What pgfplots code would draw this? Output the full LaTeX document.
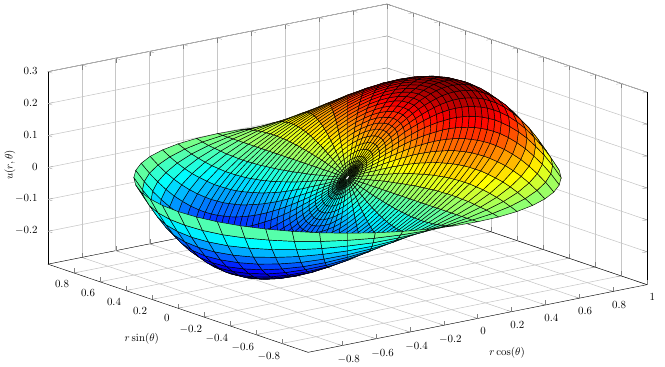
\documentclass[border=0pt]{standalone}
\usepackage{pgfplots}
\pgfplotsset{compat=1.18}
\usepackage{pgfplotstable}
\pgfplotsset{colormap={myjet}{rgb255=(0,0,128) rgb255=(0,0,255) rgb255=(0,128,255) rgb255=(0,255,255) rgb255=(128,255,128) rgb255=(255,255,0) rgb255=(255,128,0) rgb255=(255,0,0) rgb255=(128,0,0)}}
\pgfplotstableread{
k r u
0 .01 .006
1 .01 .006
2 .01 .006
3 .01 .006
4 .01 .005
5 .01 .005
6 .01 .004
7 .01 .004
8 .01 .003
9 .01 .002
10 .01 .002
11 .01 .001
12 .01 0
13 .01 -.001
14 .01 -.002
15 .01 -.002
16 .01 -.003
17 .01 -.004
18 .01 -.004
19 .01 -.005
20 .01 -.005
21 .01 -.006
22 .01 -.006
23 .01 -.006
24 .01 -.006
25 .01 -.006
26 .01 -.006
27 .01 -.006
28 .01 -.005
29 .01 -.005
30 .01 -.004
31 .01 -.004
32 .01 -.003
33 .01 -.002
34 .01 -.002
35 .01 -.001
36 .01 0
37 .01 .001
38 .01 .002
39 .01 .002
40 .01 .003
41 .01 .004
42 .01 .004
43 .01 .005
44 .01 .005
45 .01 .006
46 .01 .006
47 .01 .006
48 .01 .006
0 .02 .013
1 .02 .012
2 .02 .012
3 .02 .012
4 .02 .011
5 .02 .010
6 .02 .009
7 .02 .008
8 .02 .006
9 .02 .005
10 .02 .003
11 .02 .002
12 .02 0
13 .02 -.002
14 .02 -.003
15 .02 -.005
16 .02 -.006
17 .02 -.008
18 .02 -.009
19 .02 -.010
20 .02 -.011
21 .02 -.012
22 .02 -.012
23 .02 -.012
24 .02 -.013
25 .02 -.012
26 .02 -.012
27 .02 -.012
28 .02 -.011
29 .02 -.010
30 .02 -.009
31 .02 -.008
32 .02 -.006
33 .02 -.005
34 .02 -.003
35 .02 -.002
36 .02 0
37 .02 .002
38 .02 .003
39 .02 .005
40 .02 .006
41 .02 .008
42 .02 .009
43 .02 .010
44 .02 .011
45 .02 .012
46 .02 .012
47 .02 .012
48 .02 .013
0 .03 .019
1 .03 .019
2 .03 .018
3 .03 .017
4 .03 .016
5 .03 .015
6 .03 .013
7 .03 .012
8 .03 .009
9 .03 .007
10 .03 .005
11 .03 .002
12 .03 0
13 .03 -.002
14 .03 -.005
15 .03 -.007
16 .03 -.009
17 .03 -.012
18 .03 -.013
19 .03 -.015
20 .03 -.016
21 .03 -.017
22 .03 -.018
23 .03 -.019
24 .03 -.019
25 .03 -.019
26 .03 -.018
27 .03 -.017
28 .03 -.016
29 .03 -.015
30 .03 -.013
31 .03 -.012
32 .03 -.009
33 .03 -.007
34 .03 -.005
35 .03 -.002
36 .03 0
37 .03 .002
38 .03 .005
39 .03 .007
40 .03 .009
41 .03 .012
42 .03 .013
43 .03 .015
44 .03 .016
45 .03 .017
46 .03 .018
47 .03 .019
48 .03 .019
0 .04 .025
1 .04 .025
2 .04 .024
3 .04 .023
4 .04 .022
5 .04 .020
6 .04 .018
7 .04 .015
8 .04 .013
9 .04 .010
10 .04 .007
11 .04 .003
12 .04 0
13 .04 -.003
14 .04 -.007
15 .04 -.010
16 .04 -.013
17 .04 -.015
18 .04 -.018
19 .04 -.020
20 .04 -.022
21 .04 -.023
22 .04 -.024
23 .04 -.025
24 .04 -.025
25 .04 -.025
26 .04 -.024
27 .04 -.023
28 .04 -.022
29 .04 -.020
30 .04 -.018
31 .04 -.015
32 .04 -.013
33 .04 -.010
34 .04 -.007
35 .04 -.003
36 .04 0
37 .04 .003
38 .04 .007
39 .04 .010
40 .04 .013
41 .04 .015
42 .04 .018
43 .04 .020
44 .04 .022
45 .04 .023
46 .04 .024
47 .04 .025
48 .04 .025
0 .05 .031
1 .05 .031
2 .05 .030
3 .05 .029
4 .05 .027
5 .05 .025
6 .05 .022
7 .05 .019
8 .05 .016
9 .05 .012
10 .05 .008
11 .05 .004
12 .05 0
13 .05 -.004
14 .05 -.008
15 .05 -.012
16 .05 -.016
17 .05 -.019
18 .05 -.022
19 .05 -.025
20 .05 -.027
21 .05 -.029
22 .05 -.030
23 .05 -.031
24 .05 -.031
25 .05 -.031
26 .05 -.030
27 .05 -.029
28 .05 -.027
29 .05 -.025
30 .05 -.022
31 .05 -.019
32 .05 -.016
33 .05 -.012
34 .05 -.008
35 .05 -.004
36 .05 0
37 .05 .004
38 .05 .008
39 .05 .012
40 .05 .016
41 .05 .019
42 .05 .022
43 .05 .025
44 .05 .027
45 .05 .029
46 .05 .030
47 .05 .031
48 .05 .031
0 .07 .044
1 .07 .044
2 .07 .042
3 .07 .041
4 .07 .038
5 .07 .035
6 .07 .031
7 .07 .027
8 .07 .022
9 .07 .017
10 .07 .011
11 .07 .006
12 .07 0
13 .07 -.006
14 .07 -.011
15 .07 -.017
16 .07 -.022
17 .07 -.027
18 .07 -.031
19 .07 -.035
20 .07 -.038
21 .07 -.041
22 .07 -.042
23 .07 -.044
24 .07 -.044
25 .07 -.044
26 .07 -.042
27 .07 -.041
28 .07 -.038
29 .07 -.035
30 .07 -.031
31 .07 -.027
32 .07 -.022
33 .07 -.017
34 .07 -.011
35 .07 -.006
36 .07 0
37 .07 .006
38 .07 .011
39 .07 .017
40 .07 .022
41 .07 .027
42 .07 .031
43 .07 .035
44 .07 .038
45 .07 .041
46 .07 .042
47 .07 .044
48 .07 .044
0 .09 .056
1 .09 .056
2 .09 .054
3 .09 .052
4 .09 .049
5 .09 .045
6 .09 .040
7 .09 .034
8 .09 .028
9 .09 .022
10 .09 .015
11 .09 .007
12 .09 0
13 .09 -.007
14 .09 -.015
15 .09 -.022
16 .09 -.028
17 .09 -.034
18 .09 -.040
19 .09 -.045
20 .09 -.049
21 .09 -.052
22 .09 -.054
23 .09 -.056
24 .09 -.056
25 .09 -.056
26 .09 -.054
27 .09 -.052
28 .09 -.049
29 .09 -.045
30 .09 -.040
31 .09 -.034
32 .09 -.028
33 .09 -.022
34 .09 -.015
35 .09 -.007
36 .09 0
37 .09 .007
38 .09 .015
39 .09 .022
40 .09 .028
41 .09 .034
42 .09 .040
43 .09 .045
44 .09 .049
45 .09 .052
46 .09 .054
47 .09 .056
48 .09 .056
0 .12 .075
1 .12 .074
2 .12 .072
3 .12 .069
4 .12 .065
5 .12 .059
6 .12 .053
7 .12 .045
8 .12 .037
9 .12 .029
10 .12 .019
11 .12 .010
12 .12 0
13 .12 -.010
14 .12 -.019
15 .12 -.029
16 .12 -.037
17 .12 -.045
18 .12 -.053
19 .12 -.059
20 .12 -.065
21 .12 -.069
22 .12 -.072
23 .12 -.074
24 .12 -.075
25 .12 -.074
26 .12 -.072
27 .12 -.069
28 .12 -.065
29 .12 -.059
30 .12 -.053
31 .12 -.045
32 .12 -.037
33 .12 -.029
34 .12 -.019
35 .12 -.010
36 .12 0
37 .12 .010
38 .12 .019
39 .12 .029
40 .12 .037
41 .12 .045
42 .12 .053
43 .12 .059
44 .12 .065
45 .12 .069
46 .12 .072
47 .12 .074
48 .12 .075
0 .15 .092
1 .15 .092
2 .15 .089
3 .15 .085
4 .15 .080
5 .15 .073
6 .15 .065
7 .15 .056
8 .15 .046
9 .15 .035
10 .15 .024
11 .15 .012
12 .15 0
13 .15 -.012
14 .15 -.024
15 .15 -.035
16 .15 -.046
17 .15 -.056
18 .15 -.065
19 .15 -.073
20 .15 -.080
21 .15 -.085
22 .15 -.089
23 .15 -.092
24 .15 -.092
25 .15 -.092
26 .15 -.089
27 .15 -.085
28 .15 -.080
29 .15 -.073
30 .15 -.065
31 .15 -.056
32 .15 -.046
33 .15 -.035
34 .15 -.024
35 .15 -.012
36 .15 0
37 .15 .012
38 .15 .024
39 .15 .035
40 .15 .046
41 .15 .056
42 .15 .065
43 .15 .073
44 .15 .080
45 .15 .085
46 .15 .089
47 .15 .092
48 .15 .092
0 .18 .110
1 .18 .109
2 .18 .106
3 .18 .101
4 .18 .095
5 .18 .087
6 .18 .078
7 .18 .067
8 .18 .055
9 .18 .042
10 .18 .028
11 .18 .014
12 .18 0
13 .18 -.014
14 .18 -.028
15 .18 -.042
16 .18 -.055
17 .18 -.067
18 .18 -.078
19 .18 -.087
20 .18 -.095
21 .18 -.101
22 .18 -.106
23 .18 -.109
24 .18 -.110
25 .18 -.109
26 .18 -.106
27 .18 -.101
28 .18 -.095
29 .18 -.087
30 .18 -.078
31 .18 -.067
32 .18 -.055
33 .18 -.042
34 .18 -.028
35 .18 -.014
36 .18 0
37 .18 .014
38 .18 .028
39 .18 .042
40 .18 .055
41 .18 .067
42 .18 .078
43 .18 .087
44 .18 .095
45 .18 .101
46 .18 .106
47 .18 .109
48 .18 .110
0 .21 .127
1 .21 .125
2 .21 .122
3 .21 .117
4 .21 .110
5 .21 .100
6 .21 .089
7 .21 .077
8 .21 .063
9 .21 .048
10 .21 .033
11 .21 .017
12 .21 0
13 .21 -.017
14 .21 -.033
15 .21 -.048
16 .21 -.063
17 .21 -.077
18 .21 -.089
19 .21 -.100
20 .21 -.110
21 .21 -.117
22 .21 -.122
23 .21 -.125
24 .21 -.127
25 .21 -.125
26 .21 -.122
27 .21 -.117
28 .21 -.110
29 .21 -.100
30 .21 -.089
31 .21 -.077
32 .21 -.063
33 .21 -.048
34 .21 -.033
35 .21 -.017
36 .21 0
37 .21 .017
38 .21 .033
39 .21 .048
40 .21 .063
41 .21 .077
42 .21 .089
43 .21 .100
44 .21 .110
45 .21 .117
46 .21 .122
47 .21 .125
48 .21 .127
0 .24 .143
1 .24 .141
2 .24 .138
3 .24 .132
4 .24 .123
5 .24 .113
6 .24 .101
7 .24 .087
8 .24 .071
9 .24 .055
10 .24 .037
11 .24 .019
12 .24 0
13 .24 -.019
14 .24 -.037
15 .24 -.055
16 .24 -.071
17 .24 -.087
18 .24 -.101
19 .24 -.113
20 .24 -.123
21 .24 -.132
22 .24 -.138
23 .24 -.141
24 .24 -.143
25 .24 -.141
26 .24 -.138
27 .24 -.132
28 .24 -.123
29 .24 -.113
30 .24 -.101
31 .24 -.087
32 .24 -.071
33 .24 -.055
34 .24 -.037
35 .24 -.019
36 .24 0
37 .24 .019
38 .24 .037
39 .24 .055
40 .24 .071
41 .24 .087
42 .24 .101
43 .24 .113
44 .24 .123
45 .24 .132
46 .24 .138
47 .24 .141
48 .24 .143
0 .27 .158
1 .27 .156
2 .27 .152
3 .27 .146
4 .27 .137
5 .27 .125
6 .27 .112
7 .27 .096
8 .27 .079
9 .27 .060
10 .27 .041
11 .27 .021
12 .27 0
13 .27 -.021
14 .27 -.041
15 .27 -.060
16 .27 -.079
17 .27 -.096
18 .27 -.112
19 .27 -.125
20 .27 -.137
21 .27 -.146
22 .27 -.152
23 .27 -.156
24 .27 -.158
25 .27 -.156
26 .27 -.152
27 .27 -.146
28 .27 -.137
29 .27 -.125
30 .27 -.112
31 .27 -.096
32 .27 -.079
33 .27 -.060
34 .27 -.041
35 .27 -.021
36 .27 0
37 .27 .021
38 .27 .041
39 .27 .060
40 .27 .079
41 .27 .096
42 .27 .112
43 .27 .125
44 .27 .137
45 .27 .146
46 .27 .152
47 .27 .156
48 .27 .158
0 .30 .172
1 .30 .171
2 .30 .166
3 .30 .159
4 .30 .149
5 .30 .136
6 .30 .122
7 .30 .105
8 .30 .086
9 .30 .066
10 .30 .045
11 .30 .022
12 .30 0
13 .30 -.022
14 .30 -.045
15 .30 -.066
16 .30 -.086
17 .30 -.105
18 .30 -.122
19 .30 -.136
20 .30 -.149
21 .30 -.159
22 .30 -.166
23 .30 -.171
24 .30 -.172
25 .30 -.171
26 .30 -.166
27 .30 -.159
28 .30 -.149
29 .30 -.136
30 .30 -.122
31 .30 -.105
32 .30 -.086
33 .30 -.066
34 .30 -.045
35 .30 -.022
36 .30 0
37 .30 .022
38 .30 .045
39 .30 .066
40 .30 .086
41 .30 .105
42 .30 .122
43 .30 .136
44 .30 .149
45 .30 .159
46 .30 .166
47 .30 .171
48 .30 .172
0 .33 .185
1 .33 .184
2 .33 .179
3 .33 .171
4 .33 .160
5 .33 .147
6 .33 .131
7 .33 .113
8 .33 .093
9 .33 .071
10 .33 .048
11 .33 .024
12 .33 0
13 .33 -.024
14 .33 -.048
15 .33 -.071
16 .33 -.093
17 .33 -.113
18 .33 -.131
19 .33 -.147
20 .33 -.160
21 .33 -.171
22 .33 -.179
23 .33 -.184
24 .33 -.185
25 .33 -.184
26 .33 -.179
27 .33 -.171
28 .33 -.160
29 .33 -.147
30 .33 -.131
31 .33 -.113
32 .33 -.093
33 .33 -.071
34 .33 -.048
35 .33 -.024
36 .33 0
37 .33 .024
38 .33 .048
39 .33 .071
40 .33 .093
41 .33 .113
42 .33 .131
43 .33 .147
44 .33 .160
45 .33 .171
46 .33 .179
47 .33 .184
48 .33 .185
0 .36 .197
1 .36 .196
2 .36 .191
3 .36 .182
4 .36 .171
5 .36 .157
6 .36 .140
7 .36 .120
8 .36 .099
9 .36 .076
10 .36 .051
11 .36 .026
12 .36 0
13 .36 -.026
14 .36 -.051
15 .36 -.076
16 .36 -.099
17 .36 -.120
18 .36 -.140
19 .36 -.157
20 .36 -.171
21 .36 -.182
22 .36 -.191
23 .36 -.196
24 .36 -.197
25 .36 -.196
26 .36 -.191
27 .36 -.182
28 .36 -.171
29 .36 -.157
30 .36 -.140
31 .36 -.120
32 .36 -.099
33 .36 -.076
34 .36 -.051
35 .36 -.026
36 .36 0
37 .36 .026
38 .36 .051
39 .36 .076
40 .36 .099
41 .36 .120
42 .36 .140
43 .36 .157
44 .36 .171
45 .36 .182
46 .36 .191
47 .36 .196
48 .36 .197
0 .39 .208
1 .39 .207
2 .39 .201
3 .39 .192
4 .39 .180
5 .39 .165
6 .39 .147
7 .39 .127
8 .39 .104
9 .39 .080
10 .39 .054
11 .39 .027
12 .39 0
13 .39 -.027
14 .39 -.054
15 .39 -.080
16 .39 -.104
17 .39 -.127
18 .39 -.147
19 .39 -.165
20 .39 -.180
21 .39 -.192
22 .39 -.201
23 .39 -.207
24 .39 -.208
25 .39 -.207
26 .39 -.201
27 .39 -.192
28 .39 -.180
29 .39 -.165
30 .39 -.147
31 .39 -.127
32 .39 -.104
33 .39 -.080
34 .39 -.054
35 .39 -.027
36 .39 0
37 .39 .027
38 .39 .054
39 .39 .080
40 .39 .104
41 .39 .127
42 .39 .147
43 .39 .165
44 .39 .180
45 .39 .192
46 .39 .201
47 .39 .207
48 .39 .208
0 .42 .218
1 .42 .216
2 .42 .210
3 .42 .201
4 .42 .189
5 .42 .173
6 .42 .154
7 .42 .133
8 .42 .109
9 .42 .083
10 .42 .056
11 .42 .028
12 .42 0
13 .42 -.028
14 .42 -.056
15 .42 -.083
16 .42 -.109
17 .42 -.133
18 .42 -.154
19 .42 -.173
20 .42 -.189
21 .42 -.201
22 .42 -.210
23 .42 -.216
24 .42 -.218
25 .42 -.216
26 .42 -.210
27 .42 -.201
28 .42 -.189
29 .42 -.173
30 .42 -.154
31 .42 -.133
32 .42 -.109
33 .42 -.083
34 .42 -.056
35 .42 -.028
36 .42 0
37 .42 .028
38 .42 .056
39 .42 .083
40 .42 .109
41 .42 .133
42 .42 .154
43 .42 .173
44 .42 .189
45 .42 .201
46 .42 .210
47 .42 .216
48 .42 .218
0 .45 .226
1 .45 .224
2 .45 .218
3 .45 .209
4 .45 .196
5 .45 .179
6 .45 .160
7 .45 .138
8 .45 .113
9 .45 .087
10 .45 .059
11 .45 .030
12 .45 0
13 .45 -.030
14 .45 -.059
15 .45 -.087
16 .45 -.113
17 .45 -.138
18 .45 -.160
19 .45 -.179
20 .45 -.196
21 .45 -.209
22 .45 -.218
23 .45 -.224
24 .45 -.226
25 .45 -.224
26 .45 -.218
27 .45 -.209
28 .45 -.196
29 .45 -.179
30 .45 -.160
31 .45 -.138
32 .45 -.113
33 .45 -.087
34 .45 -.059
35 .45 -.030
36 .45 0
37 .45 .030
38 .45 .059
39 .45 .087
40 .45 .113
41 .45 .138
42 .45 .160
43 .45 .179
44 .45 .196
45 .45 .209
46 .45 .218
47 .45 .224
48 .45 .226
0 .48 .233
1 .48 .231
2 .48 .225
3 .48 .215
4 .48 .202
5 .48 .185
6 .48 .165
7 .48 .142
8 .48 .116
9 .48 .089
10 .48 .060
11 .48 .030
12 .48 0
13 .48 -.030
14 .48 -.060
15 .48 -.089
16 .48 -.116
17 .48 -.142
18 .48 -.165
19 .48 -.185
20 .48 -.202
21 .48 -.215
22 .48 -.225
23 .48 -.231
24 .48 -.233
25 .48 -.231
26 .48 -.225
27 .48 -.215
28 .48 -.202
29 .48 -.185
30 .48 -.165
31 .48 -.142
32 .48 -.116
33 .48 -.089
34 .48 -.060
35 .48 -.030
36 .48 0
37 .48 .030
38 .48 .060
39 .48 .089
40 .48 .116
41 .48 .142
42 .48 .165
43 .48 .185
44 .48 .202
45 .48 .215
46 .48 .225
47 .48 .231
48 .48 .233
0 .51 .238
1 .51 .236
2 .51 .230
3 .51 .220
4 .51 .206
5 .51 .189
6 .51 .168
7 .51 .145
8 .51 .119
9 .51 .091
10 .51 .062
11 .51 .031
12 .51 0
13 .51 -.031
14 .51 -.062
15 .51 -.091
16 .51 -.119
17 .51 -.145
18 .51 -.168
19 .51 -.189
20 .51 -.206
21 .51 -.220
22 .51 -.230
23 .51 -.236
24 .51 -.238
25 .51 -.236
26 .51 -.230
27 .51 -.220
28 .51 -.206
29 .51 -.189
30 .51 -.168
31 .51 -.145
32 .51 -.119
33 .51 -.091
34 .51 -.062
35 .51 -.031
36 .51 0
37 .51 .031
38 .51 .062
39 .51 .091
40 .51 .119
41 .51 .145
42 .51 .168
43 .51 .189
44 .51 .206
45 .51 .220
46 .51 .230
47 .51 .236
48 .51 .238
0 .54 .241
1 .54 .239
2 .54 .233
3 .54 .223
4 .54 .209
5 .54 .191
6 .54 .170
7 .54 .147
8 .54 .121
9 .54 .092
10 .54 .062
11 .54 .031
12 .54 0
13 .54 -.031
14 .54 -.062
15 .54 -.092
16 .54 -.121
17 .54 -.147
18 .54 -.170
19 .54 -.191
20 .54 -.209
21 .54 -.223
22 .54 -.233
23 .54 -.239
24 .54 -.241
25 .54 -.239
26 .54 -.233
27 .54 -.223
28 .54 -.209
29 .54 -.191
30 .54 -.170
31 .54 -.147
32 .54 -.121
33 .54 -.092
34 .54 -.062
35 .54 -.031
36 .54 0
37 .54 .031
38 .54 .062
39 .54 .092
40 .54 .121
41 .54 .147
42 .54 .170
43 .54 .191
44 .54 .209
45 .54 .223
46 .54 .233
47 .54 .239
48 .54 .241
0 .57 .242
1 .57 .240
2 .57 .234
3 .57 .224
4 .57 .210
5 .57 .192
6 .57 .171
7 .57 .148
8 .57 .121
9 .57 .093
10 .57 .063
11 .57 .032
12 .57 0
13 .57 -.032
14 .57 -.063
15 .57 -.093
16 .57 -.121
17 .57 -.148
18 .57 -.171
19 .57 -.192
20 .57 -.210
21 .57 -.224
22 .57 -.234
23 .57 -.240
24 .57 -.242
25 .57 -.240
26 .57 -.234
27 .57 -.224
28 .57 -.210
29 .57 -.192
30 .57 -.171
31 .57 -.148
32 .57 -.121
33 .57 -.093
34 .57 -.063
35 .57 -.032
36 .57 0
37 .57 .032
38 .57 .063
39 .57 .093
40 .57 .121
41 .57 .148
42 .57 .171
43 .57 .192
44 .57 .210
45 .57 .224
46 .57 .234
47 .57 .240
48 .57 .242
0 .60 .242
1 .60 .240
2 .60 .234
3 .60 .223
4 .60 .209
5 .60 .192
6 .60 .171
7 .60 .147
8 .60 .121
9 .60 .093
10 .60 .063
11 .60 .032
12 .60 0
13 .60 -.032
14 .60 -.063
15 .60 -.093
16 .60 -.121
17 .60 -.147
18 .60 -.171
19 .60 -.192
20 .60 -.209
21 .60 -.223
22 .60 -.234
23 .60 -.240
24 .60 -.242
25 .60 -.240
26 .60 -.234
27 .60 -.223
28 .60 -.209
29 .60 -.192
30 .60 -.171
31 .60 -.147
32 .60 -.121
33 .60 -.093
34 .60 -.063
35 .60 -.032
36 .60 0
37 .60 .032
38 .60 .063
39 .60 .093
40 .60 .121
41 .60 .147
42 .60 .171
43 .60 .192
44 .60 .209
45 .60 .223
46 .60 .234
47 .60 .240
48 .60 .242
0 .63 .239
1 .63 .237
2 .63 .231
3 .63 .221
4 .63 .207
5 .63 .190
6 .63 .169
7 .63 .146
8 .63 .120
9 .63 .092
10 .63 .062
11 .63 .031
12 .63 0
13 .63 -.031
14 .63 -.062
15 .63 -.092
16 .63 -.120
17 .63 -.146
18 .63 -.169
19 .63 -.190
20 .63 -.207
21 .63 -.221
22 .63 -.231
23 .63 -.237
24 .63 -.239
25 .63 -.237
26 .63 -.231
27 .63 -.221
28 .63 -.207
29 .63 -.190
30 .63 -.169
31 .63 -.146
32 .63 -.120
33 .63 -.092
34 .63 -.062
35 .63 -.031
36 .63 0
37 .63 .031
38 .63 .062
39 .63 .092
40 .63 .120
41 .63 .146
42 .63 .169
43 .63 .190
44 .63 .207
45 .63 .221
46 .63 .231
47 .63 .237
48 .63 .239
0 .66 .235
1 .66 .233
2 .66 .227
3 .66 .217
4 .66 .203
5 .66 .186
6 .66 .166
7 .66 .143
8 .66 .117
9 .66 .090
10 .66 .061
11 .66 .031
12 .66 0
13 .66 -.031
14 .66 -.061
15 .66 -.090
16 .66 -.117
17 .66 -.143
18 .66 -.166
19 .66 -.186
20 .66 -.203
21 .66 -.217
22 .66 -.227
23 .66 -.233
24 .66 -.235
25 .66 -.233
26 .66 -.227
27 .66 -.217
28 .66 -.203
29 .66 -.186
30 .66 -.166
31 .66 -.143
32 .66 -.117
33 .66 -.090
34 .66 -.061
35 .66 -.031
36 .66 0
37 .66 .031
38 .66 .061
39 .66 .090
40 .66 .117
41 .66 .143
42 .66 .166
43 .66 .186
44 .66 .203
45 .66 .217
46 .66 .227
47 .66 .233
48 .66 .235
0 .69 .228
1 .69 .226
2 .69 .220
3 .69 .210
4 .69 .197
5 .69 .181
6 .69 .161
7 .69 .139
8 .69 .114
9 .69 .087
10 .69 .059
11 .69 .030
12 .69 0
13 .69 -.030
14 .69 -.059
15 .69 -.087
16 .69 -.114
17 .69 -.139
18 .69 -.161
19 .69 -.181
20 .69 -.197
21 .69 -.210
22 .69 -.220
23 .69 -.226
24 .69 -.228
25 .69 -.226
26 .69 -.220
27 .69 -.210
28 .69 -.197
29 .69 -.181
30 .69 -.161
31 .69 -.139
32 .69 -.114
33 .69 -.087
34 .69 -.059
35 .69 -.030
36 .69 0
37 .69 .030
38 .69 .059
39 .69 .087
40 .69 .114
41 .69 .139
42 .69 .161
43 .69 .181
44 .69 .197
45 .69 .210
46 .69 .220
47 .69 .226
48 .69 .228
0 .72 .219
1 .72 .217
2 .72 .211
3 .72 .202
4 .72 .189
5 .72 .173
6 .72 .155
7 .72 .133
8 .72 .109
9 .72 .084
10 .72 .057
11 .72 .029
12 .72 0
13 .72 -.029
14 .72 -.057
15 .72 -.084
16 .72 -.109
17 .72 -.133
18 .72 -.155
19 .72 -.173
20 .72 -.189
21 .72 -.202
22 .72 -.211
23 .72 -.217
24 .72 -.219
25 .72 -.217
26 .72 -.211
27 .72 -.202
28 .72 -.189
29 .72 -.173
30 .72 -.155
31 .72 -.133
32 .72 -.109
33 .72 -.084
34 .72 -.057
35 .72 -.029
36 .72 0
37 .72 .029
38 .72 .057
39 .72 .084
40 .72 .109
41 .72 .133
42 .72 .155
43 .72 .173
44 .72 .189
45 .72 .202
46 .72 .211
47 .72 .217
48 .72 .219
0 .76 .202
1 .76 .200
2 .76 .195
3 .76 .187
4 .76 .175
5 .76 .160
6 .76 .143
7 .76 .123
8 .76 .101
9 .76 .077
10 .76 .052
11 .76 .026
12 .76 0
13 .76 -.026
14 .76 -.052
15 .76 -.077
16 .76 -.101
17 .76 -.123
18 .76 -.143
19 .76 -.160
20 .76 -.175
21 .76 -.187
22 .76 -.195
23 .76 -.200
24 .76 -.202
25 .76 -.200
26 .76 -.195
27 .76 -.187
28 .76 -.175
29 .76 -.160
30 .76 -.143
31 .76 -.123
32 .76 -.101
33 .76 -.077
34 .76 -.052
35 .76 -.026
36 .76 0
37 .76 .026
38 .76 .052
39 .76 .077
40 .76 .101
41 .76 .123
42 .76 .143
43 .76 .160
44 .76 .175
45 .76 .187
46 .76 .195
47 .76 .200
48 .76 .202
0 .80 .181
1 .80 .180
2 .80 .175
3 .80 .168
4 .80 .157
5 .80 .144
6 .80 .128
7 .80 .110
8 .80 .091
9 .80 .069
10 .80 .047
11 .80 .024
12 .80 0
13 .80 -.024
14 .80 -.047
15 .80 -.069
16 .80 -.091
17 .80 -.110
18 .80 -.128
19 .80 -.144
20 .80 -.157
21 .80 -.168
22 .80 -.175
23 .80 -.180
24 .80 -.181
25 .80 -.180
26 .80 -.175
27 .80 -.168
28 .80 -.157
29 .80 -.144
30 .80 -.128
31 .80 -.110
32 .80 -.091
33 .80 -.069
34 .80 -.047
35 .80 -.024
36 .80 0
37 .80 .024
38 .80 .047
39 .80 .069
40 .80 .091
41 .80 .110
42 .80 .128
43 .80 .144
44 .80 .157
45 .80 .168
46 .80 .175
47 .80 .180
48 .80 .181
0 .84 .156
1 .84 .154
2 .84 .150
3 .84 .144
4 .84 .135
5 .84 .124
6 .84 .110
7 .84 .095
8 .84 .078
9 .84 .060
10 .84 .040
11 .84 .020
12 .84 0
13 .84 -.020
14 .84 -.040
15 .84 -.060
16 .84 -.078
17 .84 -.095
18 .84 -.110
19 .84 -.124
20 .84 -.135
21 .84 -.144
22 .84 -.150
23 .84 -.154
24 .84 -.156
25 .84 -.154
26 .84 -.150
27 .84 -.144
28 .84 -.135
29 .84 -.124
30 .84 -.110
31 .84 -.095
32 .84 -.078
33 .84 -.060
34 .84 -.040
35 .84 -.020
36 .84 0
37 .84 .020
38 .84 .040
39 .84 .060
40 .84 .078
41 .84 .095
42 .84 .110
43 .84 .124
44 .84 .135
45 .84 .144
46 .84 .150
47 .84 .154
48 .84 .156
0 .88 .125
1 .88 .124
2 .88 .121
3 .88 .116
4 .88 .108
5 .88 .099
6 .88 .088
7 .88 .076
8 .88 .063
9 .88 .048
10 .88 .032
11 .88 .016
12 .88 0
13 .88 -.016
14 .88 -.032
15 .88 -.048
16 .88 -.063
17 .88 -.076
18 .88 -.088
19 .88 -.099
20 .88 -.108
21 .88 -.116
22 .88 -.121
23 .88 -.124
24 .88 -.125
25 .88 -.124
26 .88 -.121
27 .88 -.116
28 .88 -.108
29 .88 -.099
30 .88 -.088
31 .88 -.076
32 .88 -.063
33 .88 -.048
34 .88 -.032
35 .88 -.016
36 .88 0
37 .88 .016
38 .88 .032
39 .88 .048
40 .88 .063
41 .88 .076
42 .88 .088
43 .88 .099
44 .88 .108
45 .88 .116
46 .88 .121
47 .88 .124
48 .88 .125
0 .92 .089
1 .92 .088
2 .92 .086
3 .92 .082
4 .92 .077
5 .92 .071
6 .92 .063
7 .92 .054
8 .92 .045
9 .92 .034
10 .92 .023
11 .92 .012
12 .92 0
13 .92 -.012
14 .92 -.023
15 .92 -.034
16 .92 -.045
17 .92 -.054
18 .92 -.063
19 .92 -.071
20 .92 -.077
21 .92 -.082
22 .92 -.086
23 .92 -.088
24 .92 -.089
25 .92 -.088
26 .92 -.086
27 .92 -.082
28 .92 -.077
29 .92 -.071
30 .92 -.063
31 .92 -.054
32 .92 -.045
33 .92 -.034
34 .92 -.023
35 .92 -.012
36 .92 0
37 .92 .012
38 .92 .023
39 .92 .034
40 .92 .045
41 .92 .054
42 .92 .063
43 .92 .071
44 .92 .077
45 .92 .082
46 .92 .086
47 .92 .088
48 .92 .089
0 .96 .047
1 .96 .047
2 .96 .046
3 .96 .044
4 .96 .041
5 .96 .038
6 .96 .034
7 .96 .029
8 .96 .024
9 .96 .018
10 .96 .012
11 .96 .006
12 .96 0
13 .96 -.006
14 .96 -.012
15 .96 -.018
16 .96 -.024
17 .96 -.029
18 .96 -.034
19 .96 -.038
20 .96 -.041
21 .96 -.044
22 .96 -.046
23 .96 -.047
24 .96 -.047
25 .96 -.047
26 .96 -.046
27 .96 -.044
28 .96 -.041
29 .96 -.038
30 .96 -.034
31 .96 -.029
32 .96 -.024
33 .96 -.018
34 .96 -.012
35 .96 -.006
36 .96 0
37 .96 .006
38 .96 .012
39 .96 .018
40 .96 .024
41 .96 .029
42 .96 .034
43 .96 .038
44 .96 .041
45 .96 .044
46 .96 .046
47 .96 .047
48 .96 .047
0 1 0
1 1 0
2 1 0
3 1 0
4 1 0
5 1 0
6 1 0
7 1 0
8 1 0
9 1 0
10 1 0
11 1 0
12 1 0
13 1 0
14 1 0
15 1 0
16 1 0
17 1 0
18 1 0
19 1 0
20 1 0
21 1 0
22 1 0
23 1 0
24 1 0
25 1 0
26 1 0
27 1 0
28 1 0
29 1 0
30 1 0
31 1 0
32 1 0
33 1 0
34 1 0
35 1 0
36 1 0
37 1 0
38 1 0
39 1 0
40 1 0
41 1 0
42 1 0
43 1 0
44 1 0
45 1 0
46 1 0
47 1 0
48 1 0
}\surfdata
\begin{document}
\begin{tikzpicture}
\begin{axis}[
  scale only axis, width=549.5pt, height=319.5pt,
  view={-37.5}{30},
  xmin=-1,xmax=1,ymin=-1,ymax=1,zmin=-0.303,zmax=0.3,
  xtick={-0.8,-0.6,-0.4,-0.2,0,0.2,0.4,0.6,0.8,1},
  ytick={-0.8,-0.6,-0.4,-0.2,0,0.2,0.4,0.6,0.8},
  ztick={-0.2,-0.1,0,0.1,0.2,0.3},
  grid=major,
  major grid style={gray!45, line width=0.5pt},
  colormap name=myjet,
  point meta min=-0.2425, point meta max=0.2425,
  xticklabel style={yshift=-4.5pt},
  yticklabel style={xshift=-4.5pt,yshift=-2.5pt},
  zticklabel style={xshift=-6pt},
  xlabel={$r\cos(\theta)$}, ylabel={$r\sin(\theta)$}, zlabel={$u(r,\theta)$},
  xlabel style={xshift=3pt,yshift=2.5pt},
  ylabel style={xshift=-4pt,yshift=8pt},
  zlabel style={yshift=-7.5pt},
]
\addplot3[surf, faceted color=black, line width=0.4pt, z buffer=sort, mesh/rows=35, mesh/cols=49, point meta=\thisrow{u}]
  table[x expr=\thisrow{r}*cos(7.5*\thisrow{k}), y expr=\thisrow{r}*sin(7.5*\thisrow{k}), z=u] {\surfdata};
\coordinate (cA) at (axis cs:-1,1,-0.303);
\coordinate (cB) at (axis cs:1,-1,-0.303);
\coordinate (cT) at (axis cs:1,1,0.3);
\coordinate (cF) at (axis cs:-1,-1,-0.303);
\end{axis}
\pgfresetboundingbox
\path (cA) ++(-44pt,0pt) (cB) ++(16.5pt,0pt) (cT) ++(0pt,3.7pt) (cF) ++(0pt,-12.8pt);
\end{tikzpicture}
\end{document}
